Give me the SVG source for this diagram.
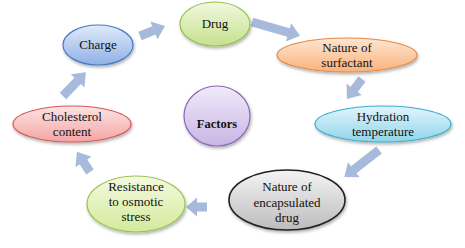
<svg xmlns="http://www.w3.org/2000/svg" width="465" height="248" viewBox="0 0 465 248">
<style>
text{font-family:'Liberation Serif','Times New Roman',Times,serif;font-size:13px;fill:#111;text-anchor:middle}
.b{font-weight:bold;font-size:12.5px}
.arr{fill:#a7badb}
.n{stroke-width:1.2}
</style>
<defs>
<filter id="sh" x="-20%" y="-20%" width="140%" height="150%"><feDropShadow dx="1" dy="2" stdDeviation="1.5" flood-color="#000" flood-opacity="0.3"/></filter>
<linearGradient id="gBlue" x1="0" y1="0" x2="0" y2="1"><stop offset="0" stop-color="#e0eaf9"/><stop offset="1" stop-color="#8fb1e6"/></linearGradient>
<linearGradient id="gGreen" x1="0" y1="0" x2="0" y2="1"><stop offset="0" stop-color="#f1f8df"/><stop offset="1" stop-color="#c6e18d"/></linearGradient>
<linearGradient id="gOrange" x1="0" y1="0" x2="0" y2="1"><stop offset="0" stop-color="#fee6d2"/><stop offset="1" stop-color="#f8b27c"/></linearGradient>
<linearGradient id="gCyan" x1="0" y1="0" x2="0" y2="1"><stop offset="0" stop-color="#e3f5fb"/><stop offset="1" stop-color="#8fd5ea"/></linearGradient>
<linearGradient id="gGray" x1="0" y1="0" x2="0" y2="1"><stop offset="0" stop-color="#f4f4f4"/><stop offset="1" stop-color="#bcbcbc"/></linearGradient>
<linearGradient id="gLime" x1="0" y1="0" x2="0" y2="1"><stop offset="0" stop-color="#f4fadf"/><stop offset="1" stop-color="#d3ea9b"/></linearGradient>
<linearGradient id="gPink" x1="0" y1="0" x2="0" y2="1"><stop offset="0" stop-color="#fde3e3"/><stop offset="1" stop-color="#f3a5a5"/></linearGradient>
<linearGradient id="gPurple" x1="0" y1="0" x2="0" y2="1"><stop offset="0" stop-color="#f1eaf9"/><stop offset="1" stop-color="#c8b5e5"/></linearGradient>
</defs>
<rect width="465" height="248" fill="#fff"/>
<g id="connectors">
<polygon class="arr" transform="translate(140,36) rotate(-22)" points="0,-4.5 15,-4.5 15,-9.5 27,0 15,9.5 15,4.5 0,4.5"/>
<polygon class="arr" transform="translate(252,22) rotate(16)" points="0,-4.5 38,-4.5 38,-9.5 50,0 38,9.5 38,4.5 0,4.5"/>
<polygon class="arr" transform="translate(362,79) rotate(127)" points="0,-4.5 13,-4.5 13,-9.5 25,0 13,9.5 13,4.5 0,4.5"/>
<polygon class="arr" transform="translate(379,150) rotate(142)" points="0,-4.5 32,-4.5 32,-9.5 44,0 32,9.5 32,4.5 0,4.5"/>
<polygon class="arr" transform="translate(207,207) rotate(180)" points="0,-4.5 10,-4.5 10,-9.5 21,0 10,9.5 10,4.5 0,4.5"/>
<polygon class="arr" transform="translate(90,172) rotate(-123)" points="0,-4.5 12,-4.5 12,-9.5 24,0 12,9.5 12,4.5 0,4.5"/>
<polygon class="arr" transform="translate(63,96) rotate(-46)" points="0,-4.5 21,-4.5 21,-9.5 33,0 21,9.5 21,4.5 0,4.5"/>
</g>
<g font-family="Liberation Serif, serif">
<g id="charge">
<ellipse class="n" cx="98" cy="45" rx="35" ry="20" fill="url(#gBlue)" stroke="#4a78c2" filter="url(#sh)"/>
<text x="98" y="49">Charge</text>
</g>
<g id="drug">
<ellipse class="n" cx="215" cy="24" rx="35" ry="22" fill="url(#gGreen)" stroke="#97c04f" filter="url(#sh)"/>
<text x="215" y="28">Drug</text>
</g>
<g id="surfactant">
<ellipse class="n" cx="347" cy="55" rx="70" ry="17" fill="url(#gOrange)" stroke="#e58a45" filter="url(#sh)"/>
<text x="347" y="52">Nature of</text>
<text x="347" y="67">surfactant</text>
</g>
<g id="hydration">
<ellipse class="n" cx="383" cy="124" rx="68" ry="18" fill="url(#gCyan)" stroke="#3aaed0" filter="url(#sh)"/>
<text x="383" y="121">Hydration</text>
<text x="383" y="136">temperature</text>
</g>
<g id="encapsulated">
<ellipse cx="287" cy="200" rx="58" ry="30" fill="url(#gGray)" stroke="#222" stroke-width="1.6" filter="url(#sh)"/>
<text x="287" y="191">Nature of</text>
<text x="287" y="207">encapsulated</text>
<text x="287" y="222">drug</text>
</g>
<g id="resistance">
<ellipse class="n" cx="136" cy="204" rx="49" ry="28" fill="url(#gLime)" stroke="#9cc45a" filter="url(#sh)"/>
<text x="136" y="191">Resistance</text>
<text x="136" y="206">to osmotic</text>
<text x="136" y="221">stress</text>
</g>
<g id="cholesterol">
<ellipse class="n" cx="72" cy="124" rx="59" ry="18" fill="url(#gPink)" stroke="#d85858" filter="url(#sh)"/>
<text x="72" y="121">Cholesterol</text>
<text x="72" y="136">content</text>
</g>
<g id="factors">
<ellipse class="n" cx="217" cy="116" rx="33" ry="30" fill="url(#gPurple)" stroke="#8a68b8" filter="url(#sh)"/>
<text class="b" x="217" y="128">Factors</text>
</g>
</g>
</svg>
